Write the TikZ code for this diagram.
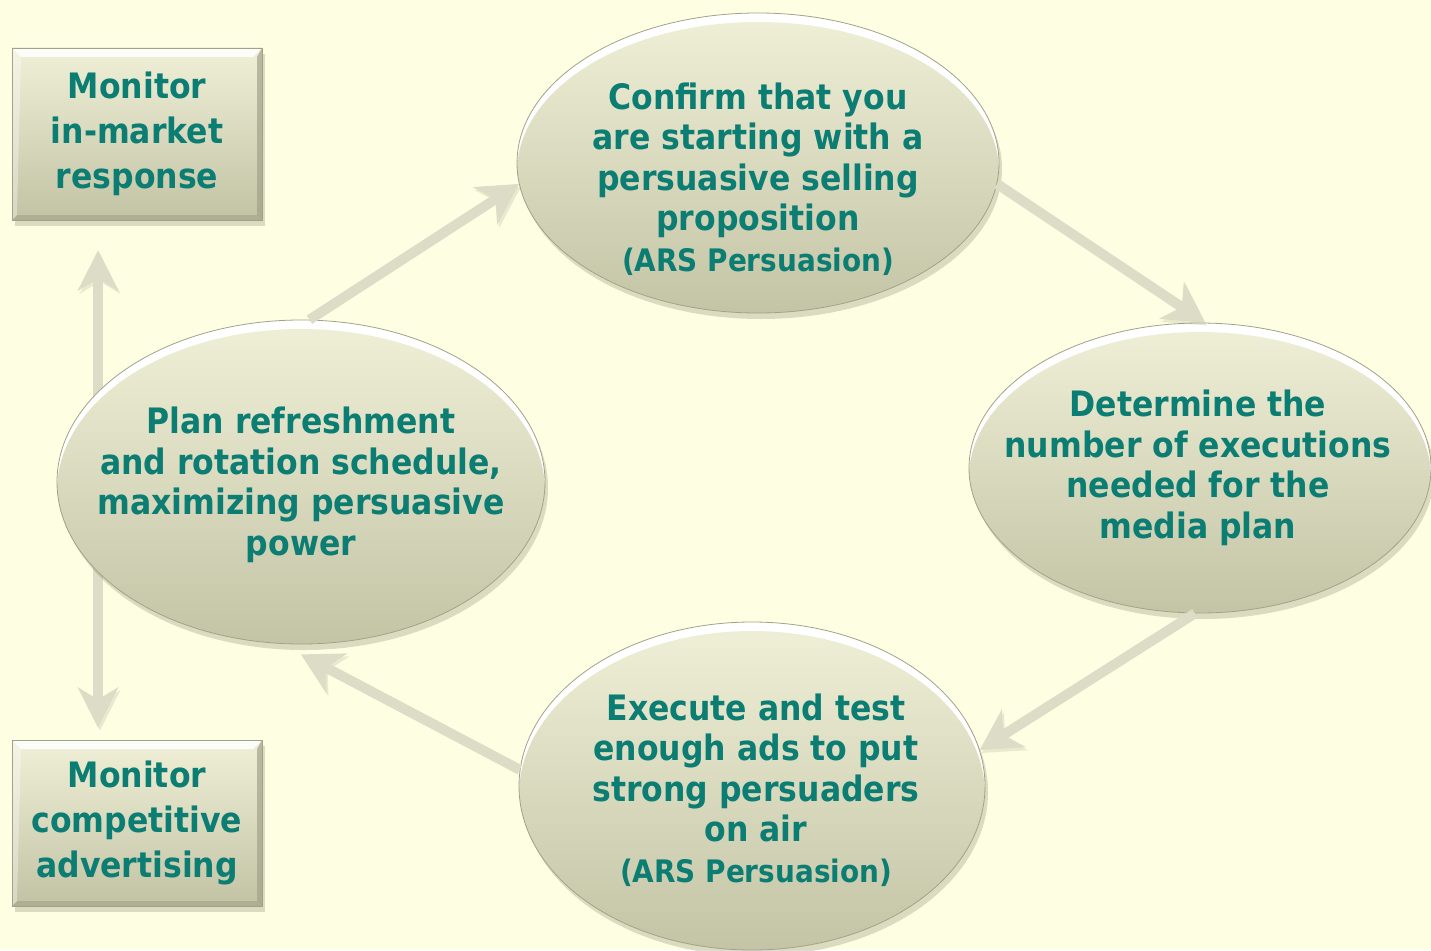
\documentclass[tikz,border=0pt]{standalone}
\usepackage{fontspec}
\setmainfont{DejaVu Sans Condensed}
\usepackage{tikz}
\usetikzlibrary{arrows.meta,calc,shapes.geometric,shadows,backgrounds}
\definecolor{cBack}{HTML}{FEFEE2}
\definecolor{cInk}{HTML}{0B7D72}
\definecolor{cLite}{HTML}{F0F0D8}
\definecolor{cDeep}{HTML}{C2C2A4}
\definecolor{cRim}{HTML}{A2A288}
\definecolor{cArrow}{HTML}{DCDCC7}
\definecolor{cShade}{HTML}{8C8C70}
\tikzset{
  bubble/.style={ellipse,draw=cRim,line width=0.8pt,fill=white,
    general shadow={shadow xshift=3pt,shadow yshift=-6pt,fill=cShade,opacity=0.3},
    path picture={
      \shade[top color=cLite,bottom color=cDeep]
        let \p1=($(path picture bounding box.north east)-(path picture bounding box.center)$) in
        ([yshift=-9pt]path picture bounding box.center) ellipse ({\x1} and {\y1});
    }},
  panel/.style={rectangle,draw=cRim,line width=0.8pt,top color=cLite,bottom color=cDeep,
    minimum width=250pt,align=center,text=cInk,font=\fontsize{35}{45}\selectfont\bfseries,
    general shadow={shadow xshift=3pt,shadow yshift=-6pt,fill=cShade,opacity=0.3},
    path picture={
      \fill[white,opacity=0.85] (path picture bounding box.north west) -- (path picture bounding box.north east)
        -- ([shift={(-9pt,-9pt)}]path picture bounding box.north east) -- ([shift={(9pt,-9pt)}]path picture bounding box.north west) -- cycle;
      \fill[cRim,opacity=0.7] (path picture bounding box.north east) -- (path picture bounding box.south east)
        -- ([shift={(-5pt,5pt)}]path picture bounding box.south east) -- ([shift={(-5pt,-9pt)}]path picture bounding box.north east) -- cycle;
      \fill[cRim,opacity=0.6] (path picture bounding box.south west) -- (path picture bounding box.south east)
        -- ([shift={(-5pt,5pt)}]path picture bounding box.south east) -- ([shift={(5pt,5pt)}]path picture bounding box.south west) -- cycle;
      \fill[white,opacity=0.35] (path picture bounding box.north west) -- (path picture bounding box.south west)
        -- ([shift={(5pt,5pt)}]path picture bounding box.south west) -- ([shift={(9pt,-9pt)}]path picture bounding box.north west) -- cycle;
    }},
  txt/.style={align=center,text=cInk,font=\fontsize{35}{40.5}\selectfont\bfseries,inner sep=0pt},
  flow/.style={-{Stealth[length=40pt,width=44pt,inset=12pt]},line width=10pt,color=cArrow,
    preaction={draw=cShade,opacity=0.18,transform canvas={shift={(2pt,-3pt)}}}},
  flowboth/.style={{Stealth[length=40pt,width=40pt,inset=12pt]}-{Stealth[length=40pt,width=40pt,inset=12pt]},line width=10pt,color=cArrow,
    preaction={draw=cShade,opacity=0.18,transform canvas={shift={(2pt,-3pt)}}}},
}
\newcommand{\srcnote}{\fontsize{31}{37}\selectfont}

\begin{document}
\begin{tikzpicture}[x=1pt,y=1pt]
  \begin{scope}[on background layer]
    \fill[cBack] (0,0) rectangle (1431,-950);
  \end{scope}
  \useasboundingbox (0,0) rectangle (1431,-950);

  % side boxes
  \node[panel,minimum height=172pt] (mktbox) at (137,-134) {Monitor\\in-market\\response};
  \node[panel,minimum height=166pt] (compbox) at (137,-823) {Monitor\\competitive\\advertising};

  % the four steps of the cycle
  \node[bubble,minimum width=482pt,minimum height=300pt] (confirm) at (758,-163) {};
  \node[bubble,minimum width=462pt,minimum height=290pt] (determine) at (1200,-468) {};
  \node[bubble,minimum width=466pt,minimum height=328pt] (execute) at (752,-786) {};
  \node[bubble,minimum width=488pt,minimum height=324pt] (plan) at (301,-482) {};

  \node[txt] (confirm-t) at ([yshift=-16pt]confirm.center)
    {Confirm that you\\are starting with a\\persuasive selling\\proposition\\{\srcnote(ARS Persuasion)}};
  \node[txt] (determine-t) at ([xshift=-2pt]determine.center)
    {Determine the\\number of executions\\needed for the\\media plan};
  \node[txt] (execute-t) at ([xshift=4pt,yshift=-4pt]execute.center)
    {Execute and test\\enough ads to put\\strong persuaders\\on air\\{\srcnote(ARS Persuasion)}};
  \node[txt] (plan-t) at ([yshift=-3pt]plan.center)
    {Plan refreshment\\and rotation schedule,\\maximizing persuasive\\power};

  % monitoring runs behind the planning step
  \begin{scope}[on background layer]
    \draw[flowboth] ([shift={(-39pt,-30pt)}]mktbox.south) -- ([shift={(-39pt,12pt)}]compbox.north);
  \end{scope}

  \draw[flow] (plan.87) -- (confirm.185);
  \draw[flow] (confirm.-5) -- (determine.88);
  \draw[flow] (determine.268) -- (execute.9);
  \draw[flow] (execute.176) -- ([yshift=-10pt]plan.270);
\end{tikzpicture}
\end{document}
